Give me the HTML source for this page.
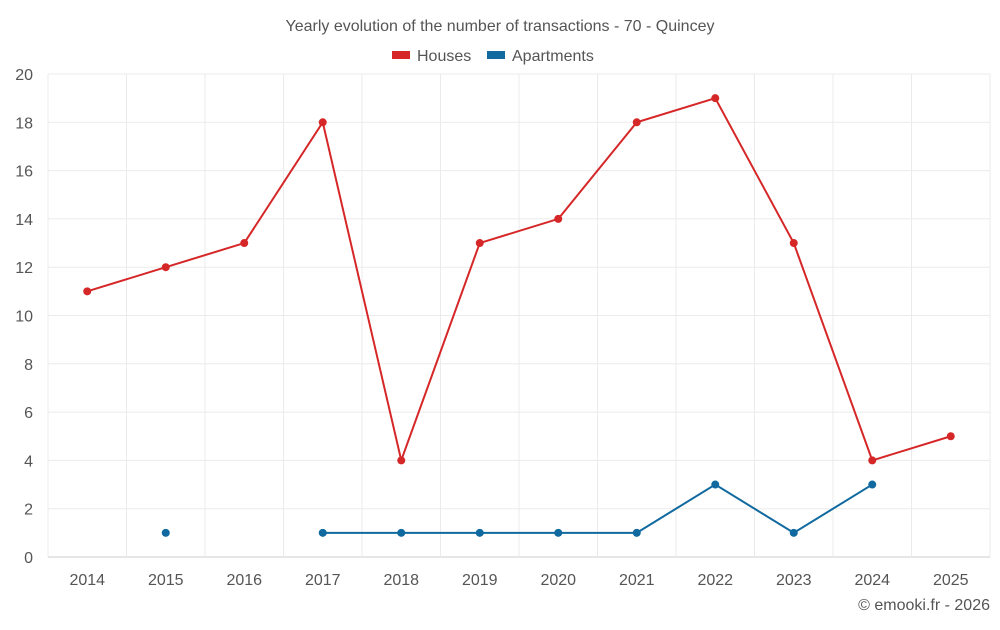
<!DOCTYPE html>
<html><head><meta charset="utf-8"><style>
body{margin:0;background:#fff;font-family:"Liberation Sans",sans-serif}
svg text{font-family:"Liberation Sans",sans-serif}
</style></head><body>
<svg id="chart" width="1000" height="625" xmlns="http://www.w3.org/2000/svg">
<text x="500" y="31" text-anchor="middle" font-size="16" fill="#555">Yearly evolution of the number of transactions - 70 - Quincey</text>
<g>
<g><rect x="392" y="51" width="18" height="8" fill="#d62728"/><text x="417" y="61" font-size="16" fill="#555">Houses</text></g>
<g><rect x="487" y="51" width="18" height="8" fill="#10699f"/><text x="512" y="61" font-size="16" fill="#555">Apartments</text></g>
</g>
<g id="grid"></g>
<g id="axes"></g>
<g id="series"></g>
<text x="990" y="610" text-anchor="end" font-size="16" fill="#555">© emooki.fr - 2026</text>
</svg>
<script>
const categories=["2014","2015","2016","2017","2018","2019","2020","2021","2022","2023","2024","2025"];
const houses=[11,12,13,18,4,13,14,18,19,13,4,5];
const apartments=[null,1,null,1,1,1,1,1,3,1,3,null];
const yTicks=[0,2,4,6,8,10,12,14,16,18,20];
const L=48,R=990,T=74,B=557,yMax=20;
const bw=(R-L)/categories.length;
const x=i=>L+bw*(i+0.5);
const y=v=>B-(B-T)*v/yMax;
const NS="http://www.w3.org/2000/svg";
function mk(tag,attrs,parent){const e=document.createElementNS(NS,tag);for(const k in attrs)e.setAttribute(k,attrs[k]);parent.appendChild(e);return e;}
const grid=document.getElementById('grid'),axes=document.getElementById('axes'),series=document.getElementById('series');
yTicks.forEach(t=>{
 const g=mk('line',{x1:L,x2:R,y1:y(t),y2:y(t),stroke:t===0?'#ccc':'#ebebeb','stroke-width':1},grid);
 
 
 const tx=mk('text',{x:33,y:y(t)+6,'text-anchor':'end','font-size':16,fill:'#555'},axes);
 tx.textContent=t;
 
 
});
for(let i=0;i<=categories.length;i++){
 const v=mk('line',{x1:L+bw*i,x2:L+bw*i,y1:T,y2:B,stroke:'#ebebeb','stroke-width':1},grid);
 
 
}
categories.forEach((c,i)=>{
 const tx=mk('text',{x:x(i),y:585,'text-anchor':'middle','font-size':16,fill:'#555'},axes);
 tx.textContent=c;
 
 
});
function draw(data,color,name){
 let seg=[];const segs=[];
 data.forEach((v,i)=>{if(v==null){if(seg.length)segs.push(seg);seg=[];}else seg.push([x(i),y(v)]);});
 if(seg.length)segs.push(seg);
 segs.forEach(s=>{if(s.length>1){
  const p=mk('polyline',{points:s.map(q=>q.join(',')).join(' '),fill:'none',stroke:color,'stroke-width':2},series);
  
  
 }});
 data.forEach((v,i)=>{if(v==null)return;
  const c=mk('circle',{cx:x(i),cy:y(v),r:4,fill:color},series);
  
  
 });
}
draw(houses,'#d62728','houses');
draw(apartments,'#10699f','apartments');
</script>
</body></html>
